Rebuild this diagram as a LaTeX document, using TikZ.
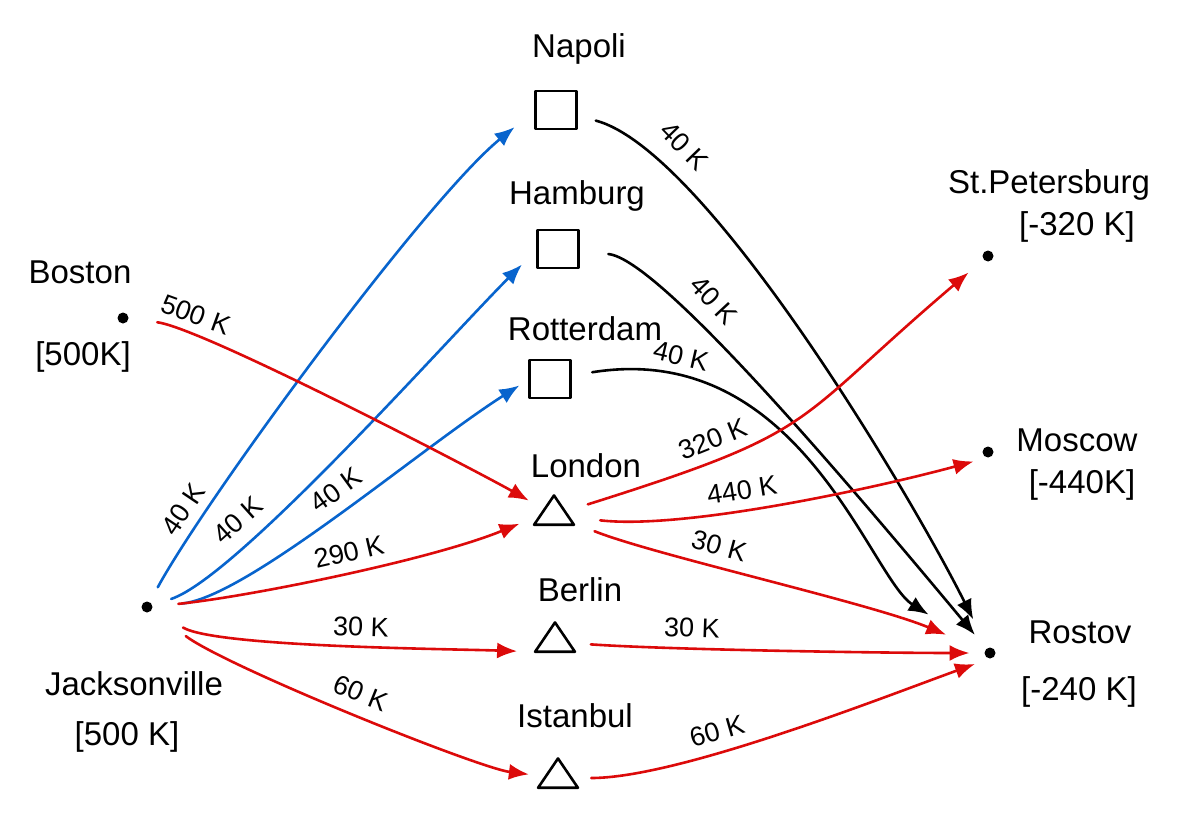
\documentclass[tikz,border=0pt]{standalone}
\usepackage{fontspec}
\setmainfont{Liberation Sans}
\usetikzlibrary{arrows.meta,shapes.geometric}
\definecolor{shipred}{RGB}{220,10,10}
\definecolor{shipblue}{RGB}{8,100,205}
\begin{document}
\begin{tikzpicture}[x=1pt,y=-1pt,line cap=round,line join=round,
  place/.style={font=\fontsize{33}{35}\selectfont,inner sep=0pt},
  amount/.style={font=\fontsize{27}{29}\selectfont,inner sep=0pt},
  dot/.style={circle,fill=black,minimum size=11pt,inner sep=0pt,outer sep=0pt},
  depot/.style={draw,line width=2.6pt,inner sep=0pt,outer sep=0pt,minimum width=41pt,minimum height=38pt},
  hub/.style={draw,line width=2.6pt,regular polygon,regular polygon sides=3,minimum size=46pt,inner sep=0pt,outer sep=0pt,yscale=0.85},
  flow/.style={line width=2.6pt,-{Latex[length=20pt,width=16pt]}},
]
\path[use as bounding box] (0,0) rectangle (1186,816);

% supply points
\node[dot] (bos) at (123,318) {};
\node[dot] (jax) at (147,607) {};
% ports
\node[depot] (nap) at (556,110) {};
\node[depot] (ham) at (558,249) {};
\node[depot] (rot) at (550,379) {};
% hubs
\node[hub] (lon) at (554,515) {};
\node[hub] (ber) at (555,642) {};
\node[hub] (ist) at (558,778) {};
% demand points
\node[dot] (stp) at (988,256) {};
\node[dot] (mos) at (988,452) {};
\node[dot] (ros) at (990,653) {};

% place names and balances
\node[place] (tbos) at (80,272) {Boston};
\node[place] (bbos) at (83,357) {[500K]};
\node[place] (tjax) at (134,684) {Jacksonville};
\node[place] (bjax) at (127,737) {[500 K]};
\node[place] (tnap) at (579,49) {Napoli};
\node[place] (tham) at (577,196) {Hamburg};
\node[place] (trot) at (585,329) {Rotterdam};
\node[place] (tlon) at (586,466) {London};
\node[place] (tber) at (580,590) {Berlin};
\node[place] (tist) at (575,716) {Istanbul};
\node[place] (tstp) at (1049,185) {St.Petersburg};
\node[place] (bstp) at (1077,227) {[-320 K]};
\node[place] (tmos) at (1077,440) {Moscow};
\node[place] (bmos) at (1082,485) {[-440K]};
\node[place] (tros) at (1080,632) {Rostov};
\node[place] (bros) at (1079,692) {[-240 K]};

% Jacksonville to the ports
\draw[flow,shipblue,shorten <=17pt,shorten >=27pt] (jax) .. controls +(60,-110) and +(-110,90) .. (nap.west);
\draw[flow,shipblue,shorten <=20pt,shorten >=22pt] (jax) .. controls +(90,-30) and +(-90,90) .. (ham.west);
\draw[flow,shipblue,shorten <=30pt,shorten >=12pt] (jax) .. controls +(100,-10) and +(-110,70) .. (rot.west);

% supply to the hubs
\draw[flow,shipred,shorten <=29pt,shorten >=18pt] (bos) .. controls +(80,10) and +(-70,-40) .. (lon);
\draw[flow,shipred,shorten <=26pt,shorten >=23pt] (jax) .. controls +(100,-10) and +(-110,45) .. (lon.west);
\draw[flow,shipred,shorten <=36pt,shorten >=18pt] (jax) .. controls +(70,40) and +(-90,-3) .. (ber.corner 2);
\draw[flow,shipred,shorten <=43pt,shorten >=17pt] (jax) .. controls +(80,60) and +(-80,-10) .. (ist);

% ports to Rostov
\draw[flow,black,shorten <=20pt,shorten >=32pt] (nap) .. controls +(150,40) and +(-80,-160) .. (ros);
\draw[flow,black,shorten <=30pt,shorten >=18pt] (ham) .. controls +(100,10) and +(-150,-180) .. (ros);
\draw[flow,black,shorten <=22pt,shorten >=67pt] (rot) .. controls +(250,-40) and +(-120,-75) .. (ros);

% hubs to the demand points
\draw[flow,shipred,shorten <=24pt,shorten >=20pt] (lon) .. controls +(270,-85) and +(-200,170) .. (stp);
\draw[flow,shipred,shorten <=32pt,shorten >=15pt] (lon) .. controls +(130,15) and +(-110,30) .. (mos.south);
\draw[flow,shipred,shorten <=24pt,shorten >=42pt] (lon) .. controls +(100,40) and +(-120,-50) .. (ros);
\draw[flow,shipred,shorten <=22pt,shorten >=15pt] (ber) .. controls +(120,8) and +(-100,0) .. (ros);
\draw[flow,shipred,shorten <=20pt,shorten >=16pt] (ist) .. controls +(120,0) and +(-110,40) .. (ros.south);

% flow amounts beside their arrows
\node[amount,rotate=56] (a1) at (183,509) {40 K};
\node[amount,rotate=42] (a2) at (238,520) {40 K};
\node[amount,rotate=36] (a3) at (336,490) {40 K};
\node[amount,rotate=13] (a4) at (349,552) {290 K};
\node[amount,rotate=-2] (a5) at (361,627) {30 K};
\node[amount,rotate=-22] (a6) at (361,693) {60 K};
\node[amount,rotate=-20] (a7) at (196,315) {500 K};
\node[amount,rotate=-46] (a8) at (684,146) {40 K};
\node[amount,rotate=-47] (a9) at (714,300) {40 K};
\node[amount,rotate=-13] (a10) at (681,356) {40 K};
\node[amount,rotate=22] (a11) at (713,439) {320 K};
\node[amount,rotate=9] (a12) at (742,490) {440 K};
\node[amount,rotate=-15] (a13) at (719,546) {30 K};
\node[amount,rotate=-2] (a14) at (692,628) {30 K};
\node[amount,rotate=16] (a15) at (717,731) {60 K};
\end{tikzpicture}
\end{document}
